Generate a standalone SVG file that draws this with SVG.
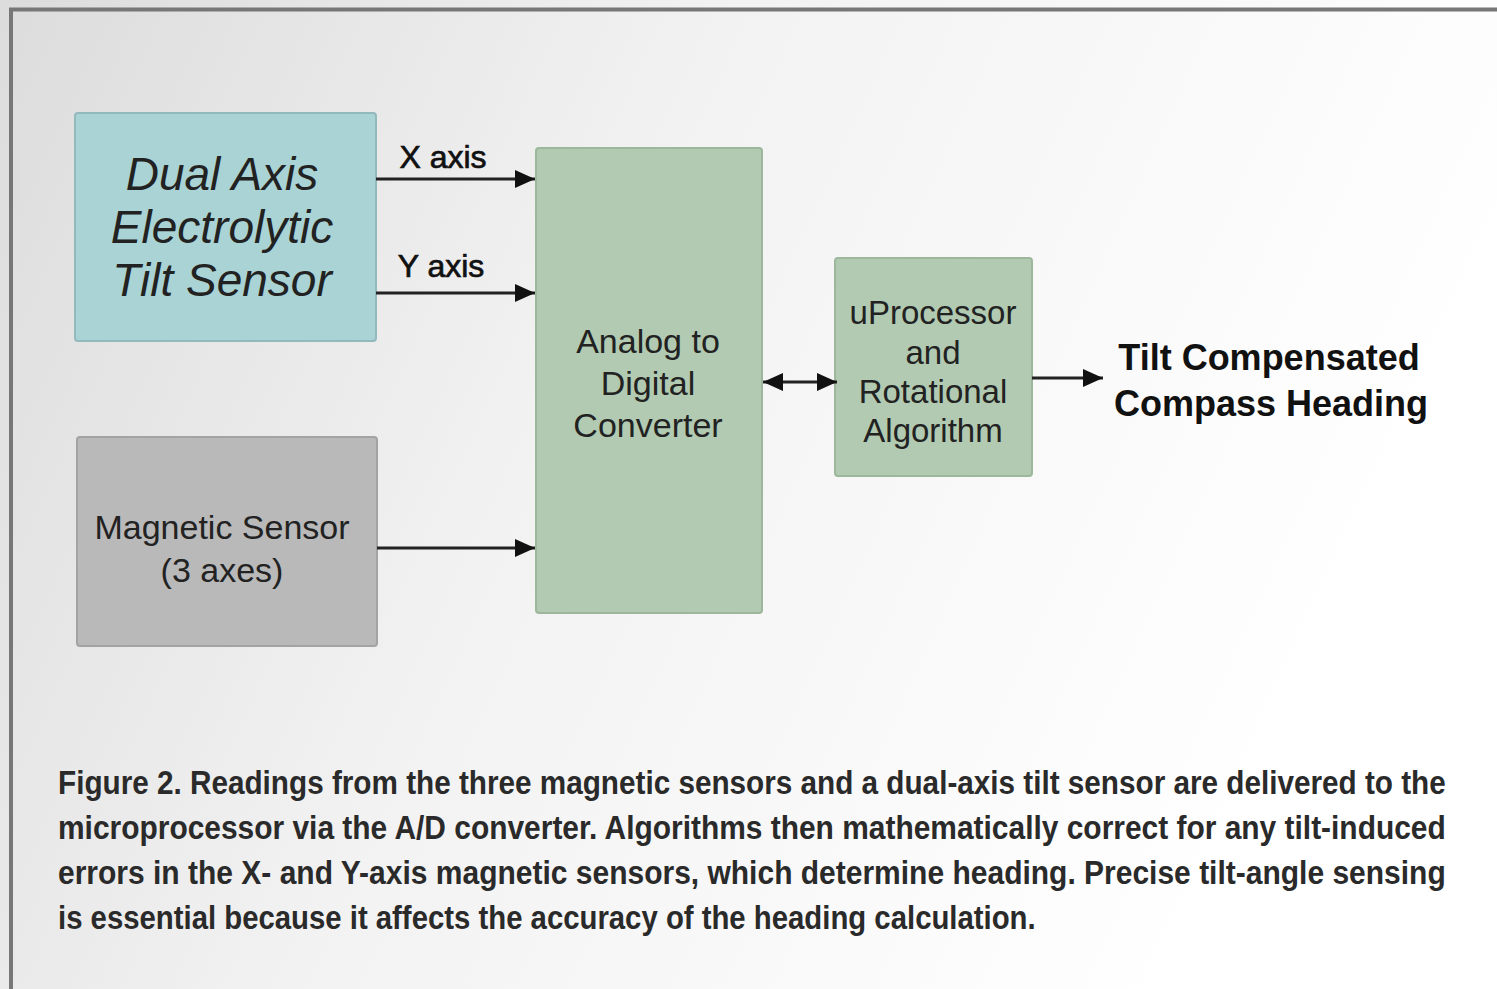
<svg xmlns="http://www.w3.org/2000/svg" width="1497" height="989" viewBox="0 0 1497 989">
<defs>
<linearGradient id="bg" x1="0" y1="0" x2="1" y2="0.3">
<stop offset="0" stop-color="#dcdcdc"/>
<stop offset="0.45" stop-color="#f2f2f2"/>
<stop offset="1" stop-color="#ffffff"/>
</linearGradient>
<marker id="ah2" viewBox="0 0 20 18" refX="20" refY="9" markerWidth="20" markerHeight="18" markerUnits="userSpaceOnUse" orient="auto-start-reverse">
<path d="M0,0 L20,9 L0,18 z" fill="#111"/>
</marker>
<style>
.box{stroke-width:2;}
.lbl{font-family:"Liberation Sans",Arial,sans-serif;fill:#222;text-anchor:middle;}
.conn{stroke:#222;stroke-width:3;fill:none;marker-end:url(#ah2);}
.axl{font-family:"Liberation Sans",Arial,sans-serif;font-size:32px;fill:#111;stroke:#111;stroke-width:0.7;text-anchor:middle;}
.cap{font-family:"Liberation Sans",Arial,sans-serif;font-weight:bold;font-size:34px;fill:#2a2a2a;}
</style>
</defs>
<rect x="0" y="0" width="1497" height="989" fill="url(#bg)"/>
<path d="M11,989 V9.5 H1497" fill="none" stroke="#777" stroke-width="4"/>
<g id="tilt">
<rect class="box" x="75" y="113" width="301" height="228" rx="3" fill="#a9d3d5" stroke="#92babd"/>
<text class="lbl" font-style="italic" font-size="46" x="222" y="190">Dual Axis</text>
<text class="lbl" font-style="italic" font-size="46" x="222" y="243">Electrolytic</text>
<text class="lbl" font-style="italic" font-size="46" x="222" y="296">Tilt Sensor</text>
</g>
<g id="magnetic">
<rect class="box" x="77" y="437" width="300" height="209" rx="3" fill="#b9b9b9" stroke="#a3a3a3"/>
<text class="lbl" font-size="34" x="222" y="539">Magnetic Sensor</text>
<text class="lbl" font-size="34" x="222" y="582">(3 axes)</text>
</g>
<g id="adc">
<rect class="box" x="536" y="148" width="226" height="465" rx="3" fill="#b1cab1" stroke="#9db79d"/>
<text class="lbl" font-size="34" x="648" y="353">Analog to</text>
<text class="lbl" font-size="34" x="648" y="395">Digital</text>
<text class="lbl" font-size="34" x="648" y="437">Converter</text>
</g>
<g id="uproc">
<rect class="box" x="835" y="258" width="197" height="218" rx="3" fill="#b1cab1" stroke="#9db79d"/>
<text class="lbl" font-size="33" x="933" y="324">uProcessor</text>
<text class="lbl" font-size="33" x="933" y="364">and</text>
<text class="lbl" font-size="33" x="933" y="403">Rotational</text>
<text class="lbl" font-size="33" x="933" y="442">Algorithm</text>
</g>
<g id="output">
<text font-family="Liberation Sans,Arial,sans-serif" font-weight="bold" font-size="36" fill="#111" x="1269" y="370" text-anchor="middle">Tilt Compensated</text>
<text font-family="Liberation Sans,Arial,sans-serif" font-weight="bold" font-size="36" fill="#111" x="1271" y="416" text-anchor="middle">Compass Heading</text>
</g>
<g id="connectors">
<line class="conn" x1="376" y1="179" x2="535" y2="179"/>
<line class="conn" x1="376" y1="293" x2="535" y2="293"/>
<line class="conn" x1="377" y1="548" x2="535" y2="548"/>
<line class="conn" x1="763" y1="382" x2="837" y2="382" style="marker-start:url(#ah2)"/>
<line class="conn" x1="1032" y1="378" x2="1103" y2="378"/>
<text class="axl" x="443" y="168">X axis</text>
<text class="axl" x="441" y="277">Y axis</text>
</g>
<g id="caption" transform="translate(58,0) scale(0.88,1)">
<text class="cap" x="0" y="794" textLength="1577" lengthAdjust="spacingAndGlyphs">Figure 2. Readings from the three magnetic sensors and a dual-axis tilt sensor are delivered to the</text>
<text class="cap" x="0" y="839" textLength="1577" lengthAdjust="spacingAndGlyphs">microprocessor via the A/D converter. Algorithms then mathematically correct for any tilt-induced</text>
<text class="cap" x="0" y="884" textLength="1577" lengthAdjust="spacingAndGlyphs">errors in the X- and Y-axis magnetic sensors, which determine heading. Precise tilt-angle sensing</text>
<text class="cap" x="0" y="929" textLength="1111" lengthAdjust="spacingAndGlyphs">is essential because it affects the accuracy of the heading calculation.</text>
</g>
</svg>
